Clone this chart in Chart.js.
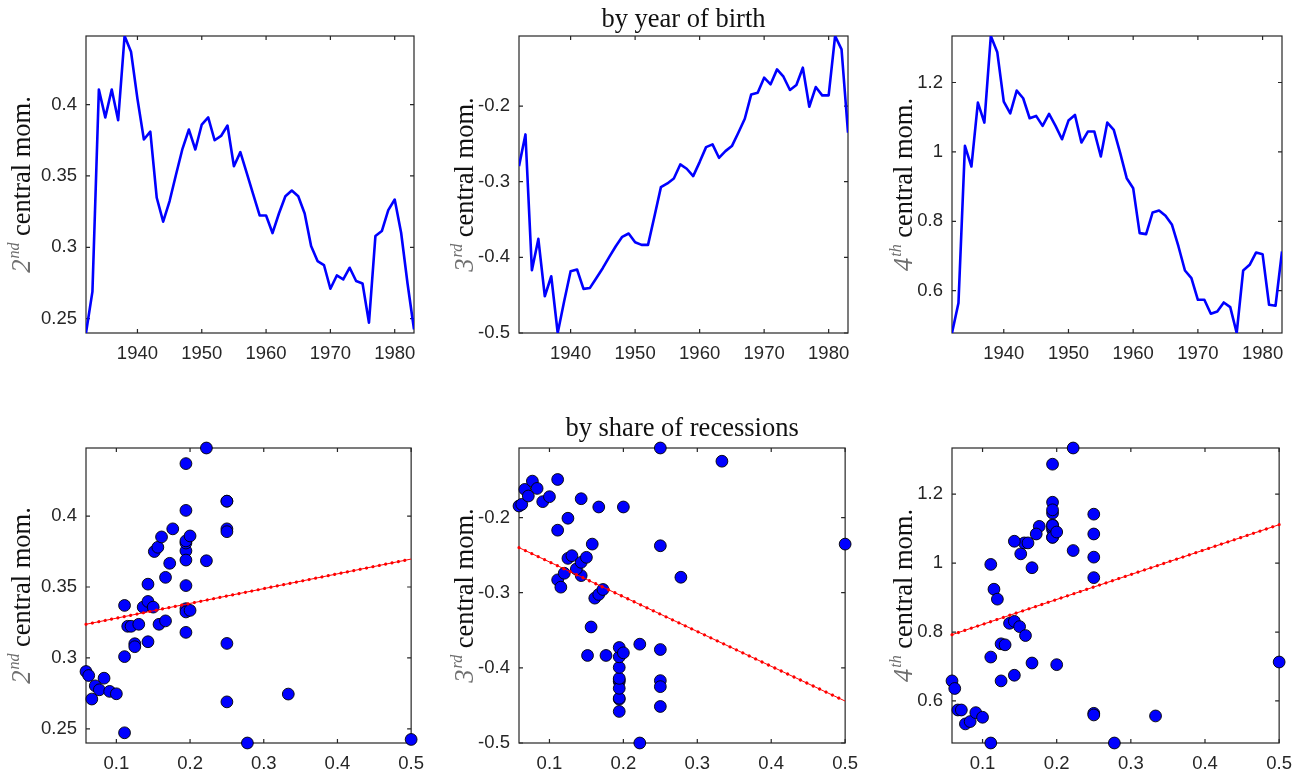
<!DOCTYPE html>
<html>
<head>
<meta charset="utf-8">
<script src="https://cdn.jsdelivr.net/npm/chart.js@4.4.0/dist/chart.umd.min.js"></script>
<style>
  html, body { margin: 0; padding: 0; background: #fff; width: 1303px; height: 779px; overflow: hidden; }
  canvas { position: absolute; }
</style>
</head>
<body>
<script>
// cohorts by year of birth
const years = [1932, 1933, 1934, 1935, 1936, 1937, 1938, 1939, 1940, 1941,
  1942, 1943, 1944, 1945, 1946, 1947, 1948, 1949, 1950, 1951,
  1952, 1953, 1954, 1955, 1956, 1957, 1958, 1959, 1960, 1961,
  1962, 1963, 1964, 1965, 1966, 1967, 1968, 1969, 1970, 1971,
  1972, 1973, 1974, 1975, 1976, 1977, 1978, 1979, 1980, 1981,
  1982, 1983];

const mom2 = [0.240, 0.269, 0.4105, 0.391, 0.4105, 0.389, 0.448, 0.437, 0.404, 0.3755,
  0.381, 0.3347, 0.318, 0.3324, 0.351, 0.369, 0.3825, 0.3685, 0.386, 0.391,
  0.375, 0.378, 0.3853, 0.3568, 0.3667, 0.352, 0.337, 0.3223, 0.3223, 0.310,
  0.3237, 0.3358, 0.3398, 0.3358, 0.3237, 0.3009, 0.2904, 0.2876, 0.271, 0.2803,
  0.2775, 0.2857, 0.2764, 0.2747, 0.2472, 0.3079, 0.3114, 0.3261, 0.3335, 0.3102,
  0.2745, 0.2425];

const mom3 = [-0.2794, -0.2375, -0.417, -0.3756, -0.4514, -0.425, -0.5, -0.458, -0.4184, -0.4161,
  -0.4417, -0.4404, -0.4272, -0.414, -0.3994, -0.3853, -0.3729, -0.3685, -0.38, -0.3835,
  -0.3835, -0.3456, -0.3072, -0.3023, -0.2957, -0.2772, -0.2829, -0.2926, -0.2741, -0.2543,
  -0.2507, -0.2684, -0.2596, -0.2529, -0.2353, -0.2168, -0.1846, -0.1824, -0.1625, -0.1713,
  -0.1515, -0.1612, -0.1788, -0.1722, -0.1493, -0.2009, -0.1749, -0.1859, -0.1859, -0.1074,
  -0.125, -0.2353];

const mom4 = [0.478, 0.5642, 1.0173, 0.9578, 1.142, 1.0845, 1.334, 1.287, 1.145, 1.111,
  1.1766, 1.1546, 1.097, 1.1037, 1.0749, 1.1094, 1.0749, 1.0365, 1.0902, 1.1066,
  1.0269, 1.0586, 1.0586, 0.9866, 1.0845, 1.0634, 0.9962, 0.9242, 0.8954, 0.7658,
  0.7629, 0.8253, 0.831, 0.8157, 0.7898, 0.7274, 0.6582, 0.6362, 0.5738, 0.5738,
  0.5334, 0.5402, 0.5661, 0.5527, 0.478, 0.6582, 0.6746, 0.7101, 0.7053, 0.5594,
  0.5565, 0.713];

const recessionShare = [0.2778, 0.25, 0.25, 0.25, 0.25, 0.25, 0.2222, 0.1944, 0.1944, 0.1944,
  0.1944, 0.1944, 0.1944, 0.1944, 0.1944, 0.1944, 0.1944, 0.2222, 0.2, 0.1765,
  0.1515, 0.1563, 0.1613, 0.1667, 0.1724, 0.1429, 0.1111, 0.1154, 0.12, 0.125,
  0.1304, 0.1364, 0.1429, 0.15, 0.1579, 0.1111, 0.0588, 0.0625, 0.0667, 0.0714,
  0.0769, 0.0833, 0.0909, 0.1, 0.1111, 0.125, 0.1429, 0.1667, 0.2, 0.25,
  0.3333, 0.5];

// linear fits (end points)
const fitShare = [0.0588, 0.5];
const fit2 = [0.3237, 0.3697];
const fit3 = [-0.240, -0.4442];
const fit4 = [0.7923, 1.1115];

// tick labels
const yearTicks = [1940, 1950, 1960, 1970, 1980];
const shareTicks = [0.1, 0.2, 0.3, 0.4, 0.5];
const ticks2 = [0.25, 0.3, 0.35, 0.4];
const ticks3 = [-0.5, -0.4, -0.3, -0.2];
const ticks4 = [0.6, 0.8, 1, 1.2];

const INK = "#262626";
const SERIF = '"Liberation Serif", "Times New Roman", serif';
const PAD = { left: 86, top: 36, right: 20, bottom: 36 };

Chart.defaults.font.family = '"Liberation Sans", Arial, Helvetica, sans-serif';
Chart.defaults.font.size = 18.5;
Chart.defaults.color = INK;
Chart.defaults.animation = false;

const panels = [
  { rect: [86, 36, 414, 333], kind: "line", y: mom2, yTicks: ticks2, ord: "2", sup: "nd", labelX: 30 },
  { rect: [519, 36, 848, 333], kind: "line", y: mom3, yTicks: ticks3, ord: "3", sup: "rd", labelX: 473,
    title: "by year of birth", titleY: 27 },
  { rect: [952, 36, 1282, 333], kind: "line", y: mom4, yTicks: ticks4, ord: "4", sup: "th", labelX: 912 },
  { rect: [86, 448, 414, 743], kind: "scatter", y: mom2, fit: fit2, yTicks: ticks2, ord: "2", sup: "nd", labelX: 30 },
  { rect: [519, 448, 848, 743], kind: "scatter", y: mom3, fit: fit3, yTicks: ticks3, ord: "3", sup: "rd", labelX: 473,
    title: "by share of recessions", titleY: 436 },
  { rect: [952, 448, 1282, 743], kind: "scatter", y: mom4, fit: fit4, yTicks: ticks4, ord: "4", sup: "th", labelX: 912 }
];

const framePlugin = {
  id: "frame",
  beforeDatasetsDraw(chart) {
    const { ctx, chartArea: a, scales } = chart;
    const tl = 4;
    ctx.save();
    ctx.strokeStyle = INK;
    ctx.lineWidth = 1.2;
    ctx.strokeRect(a.left, a.top, a.right - a.left, a.bottom - a.top);
    ctx.beginPath();
    scales.x.ticks.forEach((t) => {
      const px = scales.x.getPixelForValue(t.value);
      ctx.moveTo(px, a.bottom); ctx.lineTo(px, a.bottom - tl);
      ctx.moveTo(px, a.top); ctx.lineTo(px, a.top + tl);
    });
    scales.y.ticks.forEach((t) => {
      const py = scales.y.getPixelForValue(t.value);
      ctx.moveTo(a.left, py); ctx.lineTo(a.left + tl, py);
      ctx.moveTo(a.right, py); ctx.lineTo(a.right - tl, py);
    });
    ctx.stroke();
    ctx.restore();
  },
  afterDraw(chart) {
    const p = chart.options.plugins.frame.panel;
    const { ctx, chartArea: a } = chart;
    const canvasLeft = p.rect[0] - PAD.left;
    const canvasTop = p.rect[1] - PAD.top;

    // y label: "N^{sup} central mom."
    const big = `26.5px ${SERIF}`;
    const bigIt = `italic 26.5px ${SERIF}`;
    const small = `italic 16px ${SERIF}`;
    ctx.save();
    ctx.font = bigIt; const w1 = ctx.measureText(p.ord).width;
    ctx.font = small; const w2 = ctx.measureText(p.sup).width;
    ctx.font = big; const w3 = ctx.measureText(" central mom.").width;
    const total = w1 + 1 + w2 + w3;
    ctx.translate(p.labelX - canvasLeft, (a.top + a.bottom) / 2);
    ctx.rotate(-Math.PI / 2);
    ctx.textBaseline = "alphabetic";
    ctx.textAlign = "left";
    let x = -total / 2;
    ctx.fillStyle = "#6e6e6e";
    ctx.font = bigIt; ctx.fillText(p.ord, x, 0); x += w1 + 1;
    ctx.font = small; ctx.fillText(p.sup, x, -11); x += w2;
    ctx.fillStyle = "#111";
    ctx.font = big; ctx.fillText(" central mom.", x, 0);
    ctx.restore();

    if (p.title) {
      ctx.save();
      ctx.font = big;
      ctx.fillStyle = "#111";
      ctx.textAlign = "center";
      ctx.textBaseline = "alphabetic";
      ctx.fillText(p.title, (a.left + a.right) / 2, p.titleY - canvasTop);
      ctx.restore();
    }
  }
};

function fitDash(ctx) {
  const chart = ctx.chart;
  const xs = chart.scales.x, ys = chart.scales.y;
  const ds = chart.data.datasets[ctx.datasetIndex];
  if (!chart.chartArea || !xs || !ys || !ds) return [0.01, 6.5];
  const pts = ds.data;
  const dx = xs.getPixelForValue(pts[1].x) - xs.getPixelForValue(pts[0].x);
  const dy = ys.getPixelForValue(pts[1].y) - ys.getPixelForValue(pts[0].y);
  const gap = Math.hypot(dx, dy) / 51;
  return [0.01, gap - 0.01];
}

function makePanel(p) {
  const [l, t, r, b] = p.rect;
  const canvas = document.createElement("canvas");
  canvas.width = r - l + PAD.left + PAD.right;
  canvas.height = b - t + PAD.top + PAD.bottom;
  canvas.style.left = (l - PAD.left) + "px";
  canvas.style.top = (t - PAD.top) + "px";
  document.body.appendChild(canvas);

  const xVals = p.kind === "line" ? years : recessionShare;
  const xTicks = p.kind === "line" ? yearTicks : shareTicks;
  const datasets = [];

  if (p.kind === "line") {
    datasets.push({
      type: "line",
      data: years.map((yr, i) => ({ x: yr, y: p.y[i] })),
      borderColor: "#0000ff",
      borderWidth: 2.6,
      borderJoinStyle: "round",
      pointRadius: 0,
      tension: 0,
      clip: 0
    });
  } else {
    const fitData = fitShare.map((s, i) => ({ x: s, y: p.fit[i] }));
    datasets.push({
      type: "line",
      data: fitData,
      borderColor: "#ff0000",
      borderWidth: 1,
      pointRadius: 0,
      order: 0,
      clip: false
    });
    datasets.push({
      type: "line",
      data: fitData,
      borderColor: "#ff0000",
      borderWidth: 3.2,
      borderCapStyle: "round",
      borderDash: fitDash,
      pointRadius: 0,
      order: 0,
      clip: false
    });
    datasets.push({
      type: "scatter",
      data: recessionShare.map((s, i) => ({ x: s, y: p.y[i] })),
      backgroundColor: "#0000ff",
      borderColor: "#000000",
      borderWidth: 0.9,
      pointRadius: 5.9,
      pointHoverRadius: 5.9,
      order: 1,
      clip: false
    });
  }

  return new Chart(canvas, {
    type: "line",
    data: { datasets },
    plugins: [framePlugin],
    options: {
      responsive: false,
      devicePixelRatio: 1,
      events: [],
      layout: { padding: { left: 0, top: PAD.top, right: PAD.right, bottom: 0 } },
      plugins: {
        legend: { display: false },
        tooltip: { enabled: false },
        frame: { panel: p }
      },
      scales: {
        x: {
          type: "linear",
          min: Math.min(...xVals),
          max: Math.max(...xVals),
          grid: { display: false, drawTicks: false },
          border: { display: false },
          ticks: { padding: 10, color: INK, maxRotation: 0, callback: (v) => String(v) },
          afterBuildTicks: (s) => { s.ticks = xTicks.map((v) => ({ value: v })); },
          afterFit: (s) => { s.height = PAD.bottom; }
        },
        y: {
          type: "linear",
          min: Math.min(...p.y),
          max: Math.max(...p.y),
          grid: { display: false, drawTicks: false },
          border: { display: false },
          ticks: { padding: 9, color: INK, callback: (v) => String(v) },
          afterBuildTicks: (s) => { s.ticks = p.yTicks.map((v) => ({ value: v })); },
          afterFit: (s) => { s.width = PAD.left; }
        }
      }
    }
  });
}

panels.forEach(makePanel);
</script>
</body>
</html>
